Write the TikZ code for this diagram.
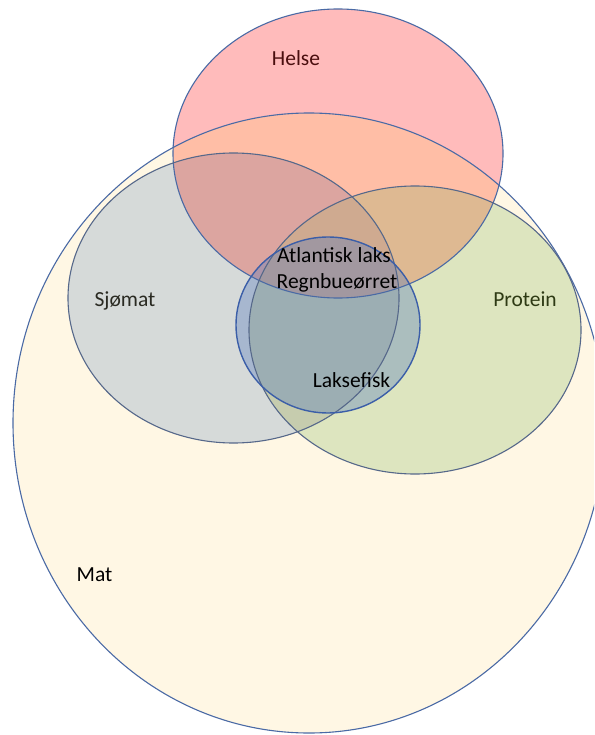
\documentclass[tikz,border=0pt]{standalone}
\usepackage{fontspec}
\setmainfont{Carlito}
\begin{document}
\begin{tikzpicture}[x=1pt,y=-1pt,
  lbl/.style={font=\fontsize{21.5}{25}\selectfont, inner sep=0pt, anchor=base},
  rim/.style={draw=#1, line width=1.1pt},
]
% colours of the sets and of their overlaps
\definecolor{cMat}{HTML}{FFF7E4}
\definecolor{cHelse}{HTML}{FFBBBB}
\definecolor{cMH}{HTML}{FFBEA6}
\definecolor{cSjo}{HTML}{D6DAD9}
\definecolor{cSH}{HTML}{DCA5A0}
\definecolor{cPro}{HTML}{DDE5BF}
\definecolor{cPH}{HTML}{DEB992}
\definecolor{cSP}{HTML}{C6CCAE}
\definecolor{cSPH}{HTML}{CFAA90}
\definecolor{cLaks}{RGB}{80,120,190}
\definecolor{lineA}{HTML}{4A6AA5}
\definecolor{lineB}{HTML}{56688A}
\definecolor{lineL}{HTML}{3B5EA8}
\definecolor{tHelse}{HTML}{4A0E0E}
\definecolor{tPro}{HTML}{2E3A14}
\definecolor{tSjo}{HTML}{2A2A22}

% the five sets
\newcommand\EMat{(309,423) ellipse [x radius=296pt, y radius=310pt]}
\newcommand\EHelse{(338,153.5) ellipse [x radius=165pt, y radius=144.5pt]}
\newcommand\ESjo{(233.5,298) ellipse [x radius=165.5pt, y radius=145pt]}
\newcommand\EPro{(415,330) ellipse [x radius=166pt, y radius=144pt]}
\newcommand\ELaks{(328,325) ellipse [x radius=92pt, y radius=88pt]}

\useasboundingbox (0,0) rectangle (594,735);
\fill[white] (0,0) rectangle (594,735);
\clip (0,0) rectangle (594,735);

% base fills
\fill[cHelse] \EHelse;
\fill[cMat] \EMat;
\begin{scope}\clip \EMat; \fill[cMH] \EHelse; \end{scope}
\fill[cSjo] \ESjo;
\begin{scope}\clip \ESjo; \fill[cSH] \EHelse; \end{scope}
\fill[cPro] \EPro;
\begin{scope}\clip \EPro; \fill[cPH] \EHelse; \end{scope}
\begin{scope}\clip \EPro; \fill[cSP] \ESjo; \end{scope}
\begin{scope}\clip \EPro; \clip \ESjo; \fill[cSPH] \EHelse; \end{scope}
\fill[cLaks, fill opacity=0.35] \ELaks;

% outlines
\draw[rim=lineA] \EMat;
\draw[rim=lineA] \EHelse;
\draw[rim=lineB] \ESjo;
\draw[rim=lineB] \EPro;
\draw[rim=lineL, line width=1.4pt] \ELaks;

% labels
\node[lbl, text=tHelse] (helse) at (296,66) {Helse};
\node[lbl] (atl) at (334,262) {Atlantisk laks};
\node[lbl] (regn) at (337,288) {Regnbueørret};
\node[lbl] (lfisk) at (351.5,387) {Laksefisk};
\node[lbl, text=tSjo] (sjo) at (125,306) {Sjømat};
\node[lbl, text=tPro] (pro) at (525,306) {Protein};
\node[lbl] (mat) at (94.5,581) {Mat};
\end{tikzpicture}
\end{document}
